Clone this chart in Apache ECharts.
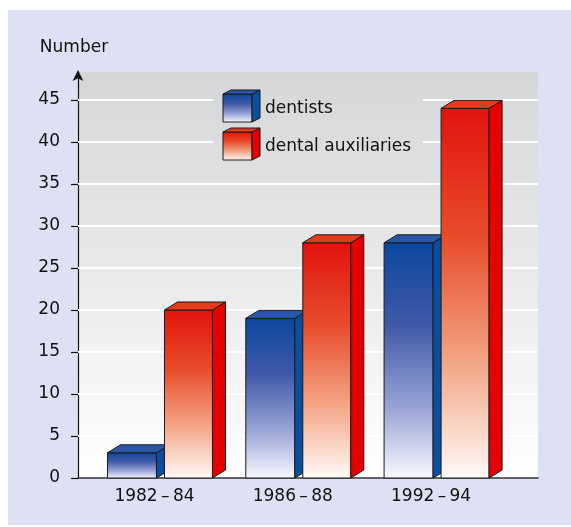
<!DOCTYPE html>
<html>
<head>
<meta charset="utf-8">
<script src="https://cdn.jsdelivr.net/npm/echarts@6/dist/echarts.min.js"></script>
<style>
html,body{margin:0;padding:0;background:#ffffff;}
#chart{width:571px;height:527px;}
</style>
</head>
<body>
<div id="chart"></div>
<script>
const categories = ['1982\u2009\u2013\u200984', '1986\u2009\u2013\u200988', '1992\u2009\u2013\u200994'];
const seriesNames = ['dentists', 'dental auxiliaries'];
const dentists = [3, 19, 28];
const auxiliaries = [20, 28, 44];
const yTicks = [0, 5, 10, 15, 20, 25, 30, 35, 40, 45];
const yMax = 48.33;

const FONT = 'DejaVu Sans';
const styles = [
  { // dentists
    offL: -47, w: 49,
    front: [[0, '#0b469d'], [0.35, '#4059a8'], [0.7, '#98a4d6'], [1, '#f9f9fe']],
    top: '#2a56a6', side: '#0a4f9f'
  },
  { // dental auxiliaries
    offL: 10, w: 48,
    front: [[0, '#e2130c'], [0.35, '#e84c2a'], [0.68, '#f3a383'], [1, '#fffaf7']],
    top: '#e63a1c', side: '#e60000'
  }
];
const DX = 13, DY = 8;
const STROKE = '#1a1a1a';
const PLOT_BG = [[0, '#d5d6d8'], [0.55, '#ececed'], [1, '#ffffff']];

function grad(stops) {
  return { type: 'linear', x: 0, y: 0, x2: 0, y2: 1,
    colorStops: stops.map(s => ({ offset: s[0], color: s[1] })) };
}

function renderBar(params, api) {
  const st = styles[params.seriesIndex - 1];
  const cat = api.value(0), val = api.value(1);
  const pTop = api.coord([cat, val]);
  const pBase = api.coord([cat, 0]);
  const x0 = pTop[0] + st.offL, w = st.w;
  const yT = pTop[1], yB = pBase[1];
  return {
    type: 'group',
    children: [
      { type: 'rect', shape: { x: x0, y: yT, width: w, height: yB - yT },
        style: { fill: grad(st.front), stroke: STROKE, lineWidth: 1 } },
      { type: 'polygon', shape: { points: [[x0 + w, yT], [x0 + w + DX, yT - DY], [x0 + w + DX, yB - DY], [x0 + w, yB]] },
        style: { fill: st.side, stroke: STROKE, lineWidth: 1 } },
      { type: 'polygon', shape: { points: [[x0, yT], [x0 + DX, yT - DY], [x0 + w + DX, yT - DY], [x0 + w, yT]] },
        style: { fill: st.top, stroke: STROKE, lineWidth: 1 } }
    ]
  };
}

function legendCube(x, y, st, name) {
  const w = 29, h = 28, dx = 8, dy = 4;
  return [
    { type: 'rect', z: 50, silent: true, shape: { x: x, y: y, width: w, height: h },
      style: { fill: grad(st.front), stroke: STROKE, lineWidth: 1 } },
    { type: 'polygon', z: 50, silent: true, shape: { points: [[x + w, y], [x + w + dx, y - dy], [x + w + dx, y + h - dy], [x + w, y + h]] },
      style: { fill: st.side, stroke: STROKE, lineWidth: 1 } },
    { type: 'polygon', z: 50, silent: true, shape: { points: [[x, y], [x + dx, y - dy], [x + w + dx, y - dy], [x + w, y]] },
      style: { fill: st.top, stroke: STROKE, lineWidth: 1 } },
    { type: 'text', z: 50, silent: true, x: x + 42, y: y + h / 2 + 1,
      style: { text: name, font: '17px "' + FONT + '"', fill: '#111', verticalAlign: 'middle', align: 'left' } }
  ];
}

const chart = echarts.init(document.getElementById('chart'), null, { renderer: 'canvas' });
chart.setOption({
  animation: false,
  backgroundColor: '#ffffff',
  textStyle: { fontFamily: FONT },
  graphic: [
    { type: 'rect', z: -100, silent: true, shape: { x: 8, y: 10, width: 563, height: 515 },
      style: { fill: '#dee1f3' } },
    // legend backdrop that hides the grid lines behind the legend
    { type: 'rect', z: 10, silent: true, shape: { x: 213, y: 84, width: 210, height: 82 },
      style: { fill: { type: 'linear', global: true, x: 0, y: 72, x2: 0, y2: 478,
        colorStops: PLOT_BG.map(s => ({ offset: s[0], color: s[1] })) } } }
  ].concat(legendCube(223, 94, styles[0], seriesNames[0]), legendCube(223, 132, styles[1], seriesNames[1])),
  grid: {
    left: 78, right: 33, top: 72, bottom: 49,
    show: true, borderWidth: 0,
    backgroundColor: grad(PLOT_BG)
  },
  xAxis: {
    type: 'value', min: -0.553, max: 2.773,
    axisLine: { show: true, onZero: false, lineStyle: { color: '#333', width: 1.5 } },
    axisTick: { show: false },
    splitLine: { show: false },
    axisLabel: { customValues: [0, 1, 2], formatter: v => categories[Math.round(v)],
      color: '#111', fontSize: 17, fontFamily: FONT, margin: 10 }
  },
  yAxis: {
    type: 'value', min: 0, max: yMax,
    name: 'Number', nameLocation: 'end', nameGap: 16,
    nameTextStyle: { color: '#111', fontSize: 17, fontFamily: FONT, align: 'center', padding: [0, 0, 0, -8] },
    axisLine: { show: true, onZero: false, symbol: ['none', 'arrow'], symbolSize: [8, 11], symbolOffset: [0, 2],
      lineStyle: { color: '#111', width: 1.2 } },
    axisTick: { show: true, customValues: yTicks, length: 7, lineStyle: { color: '#111', width: 1.2 } },
    axisLabel: { customValues: yTicks, color: '#111', fontSize: 17, fontFamily: FONT, margin: 18 },
    splitLine: { show: false }
  },
  series: [
    { type: 'line', data: [], z: 1, silent: true,
      markLine: { silent: true, symbol: 'none', animation: false, label: { show: false },
        lineStyle: { color: '#ffffff', width: 2, type: 'solid' },
        data: yTicks.filter(v => v > 0).map(v => ({ yAxis: v })) } },
    { type: 'custom', name: seriesNames[0], z: 20, renderItem: renderBar,
      data: dentists.map((v, i) => [i, v]) },
    { type: 'custom', name: seriesNames[1], z: 21, renderItem: renderBar,
      data: auxiliaries.map((v, i) => [i, v]) }
  ]
});
</script>
</body>
</html>
